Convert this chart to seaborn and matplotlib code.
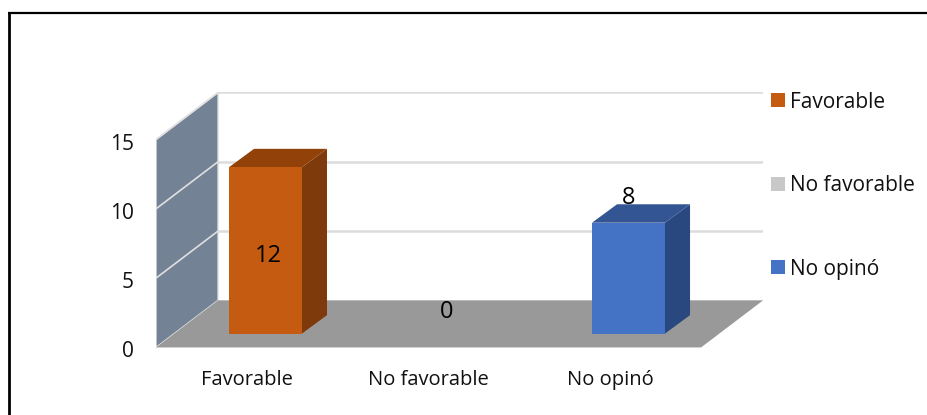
import matplotlib
matplotlib.use("Agg")
import matplotlib.pyplot as plt
from matplotlib.lines import Line2D
from matplotlib.patches import Polygon
from matplotlib.transforms import ScaledTranslation
import pandas as pd
import seaborn as sns

categories = ["Favorable", "No favorable", "No opinó"]
values = [12, 0, 8]
bar_colors = ["#C55A11", "#C8C8C8", "#4472C4"]
top_colors = ["#924209", "#8F8F8F", "#335593"]
side_colors = ["#7E3A0B", "#7F7F7F", "#2A4880"]
y_ticks = [0, 5, 10, 15]

sns.set_theme(style="white")
plt.rcParams["font.family"] = ["Open Sans", "DejaVu Sans"]

W, H = 928, 415
fig = plt.figure(figsize=(W / 100, H / 100), dpi=100)
# axes box = the 3d chart area in pixels
ax = fig.add_axes([156 / W, 1 - 348 / H, (763 - 156) / W, (348 - 92) / H])

df = pd.DataFrame({"cat": categories, "val": values})
sns.barplot(data=df, x="cat", y="val", hue="cat", palette=bar_colors,
            width=0.402, dodge=False, saturation=1, legend=True, ax=ax,
            zorder=3, linewidth=0, edgecolor="none")

ax.set_xlim(-0.603, 2.741)
ax.set_ylim(-1.04, 17.43)

# 3d offsets in data units
floor_y = -1.0
wall_dx, wall_dy = 0.342, 3.4
bar_dx, bar_dy = 0.138, 1.33
x0 = -0.603
x1 = x0 + (701 - 156) / 181.5

# side wall, floor
ax.add_patch(Polygon([(x0, floor_y), (x0 + wall_dx, floor_y + wall_dy),
                      (x0 + wall_dx, floor_y + wall_dy + 15), (x0, floor_y + 15)],
                     fc="#748296", ec="#E4E4E4", lw=1, zorder=1))
ax.add_patch(Polygon([(x0, floor_y), (x1, floor_y), (x1 + wall_dx, floor_y + wall_dy),
                      (x0 + wall_dx, floor_y + wall_dy)],
                     fc="#999999", ec="none", zorder=1))

# gridlines run along the wall, then along the back
for t in y_ticks[1:]:
    ax.plot([x0, x0 + wall_dx], [floor_y + t, floor_y + wall_dy + t], color="#E0E0E0", lw=1.2, zorder=1.5)
    ax.plot([x0 + wall_dx, x1 + wall_dx], [floor_y + wall_dy + t] * 2, color="#DCDCDC", lw=1.8, zorder=1.5)

# bar depth faces
for i, cont in enumerate(ax.containers):
    for bar in cont:
        h = bar.get_height()
        if not h or h != h:
            continue
        l, r = bar.get_x(), bar.get_x() + bar.get_width()
        ax.add_patch(Polygon([(r, 0), (r + bar_dx, bar_dy), (r + bar_dx, h + bar_dy), (r, h)],
                             fc=side_colors[i], ec="none", zorder=2.5))
        ax.add_patch(Polygon([(l, h), (r, h), (r + bar_dx, h + bar_dy), (l + bar_dx, h + bar_dy)],
                             fc=top_colors[i], ec="none", zorder=2.5))

# value labels
ax.text(0.013, values[0] * 0.465, str(values[0]), ha="center", va="center", fontsize=17, color="black", zorder=5)
ax.text(1, values[1] + 1.55, str(values[1]), ha="center", va="center", fontsize=17, color="black", zorder=5)
ax.text(2, values[2] + 1.75, str(values[2]), ha="center", va="center", fontsize=17, color="black", zorder=5)

ax.set_xticks([i - 0.1 for i in range(len(categories))])
ax.set_xticklabels(categories)
ax.set_yticks([t + floor_y for t in y_ticks])
ax.set_yticklabels([str(t) for t in y_ticks])
ax.set_xlabel("")
ax.set_ylabel("")
ax.tick_params(axis="y", length=0, pad=16, labelsize=15, labelcolor="#111111")
ax.tick_params(axis="x", length=0, pad=16, labelsize=14.5, labelcolor="#111111")
sns.despine(ax=ax, left=True, bottom=True)

# number labels sit a little under their gridline start
for lab in ax.get_yticklabels():
    lab.set_transform(lab.get_transform() + ScaledTranslation(0, -2 / 100, fig.dpi_scale_trans))

handles, labels = ax.get_legend_handles_labels()
leg = ax.legend(handles, labels, loc="upper left", bbox_to_anchor=(771 / W, 1 - 91.5 / H),
                bbox_transform=fig.transFigure, frameon=False, fontsize=15,
                handlelength=0.67, handleheight=0.67, handletextpad=0.24,
                labelspacing=3.0, borderpad=0, borderaxespad=0)
for txt in leg.get_texts():
    txt.set_color("#111111")

# picture only has a line on the top and on the left
fig.add_artist(Line2D([9.5 / W, 9.5 / W], [0, 1 - 12 / H], color="black", lw=2, solid_capstyle="butt"))
fig.add_artist(Line2D([8 / W, 1], [1 - 13 / H, 1 - 13 / H], color="black", lw=1.6, solid_capstyle="butt"))

fig.savefig("out.png", dpi=100)
